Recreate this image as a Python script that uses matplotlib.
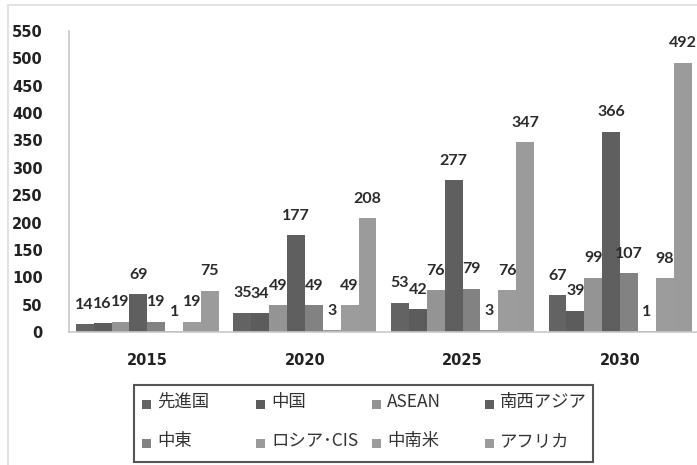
import matplotlib
matplotlib.use("Agg")
import numpy as np
import matplotlib.pyplot as plt
from matplotlib.lines import Line2D
from matplotlib.patches import Rectangle

plt.rcParams['font.family'] = ['Lato', 'Noto Sans CJK JP', 'DejaVu Sans']

years = ['2015', '2020', '2025', '2030']
regions = ['先進国', '中国', 'ASEAN', '南西アジア', '中東', 'ロシア･CIS', '中南米', 'アフリカ']

developed = [14, 35, 53, 67]
china = [16, 34, 42, 39]
asean = [19, 49, 76, 99]
south_west_asia = [69, 177, 277, 366]
middle_east = [19, 49, 79, 107]
russia_cis = [1, 3, 3, 1]
latin_america = [19, 49, 76, 98]
africa = [75, 208, 347, 492]

series = [developed, china, asean, south_west_asia, middle_east,
          russia_cis, latin_america, africa]
colors = ['#636363', '#5c5c5c', '#949494', '#5f5f5f', '#828282',
          '#9a9a9a', '#9c9c9c', '#9b9b9b']

W, H = 697, 465
fig = plt.figure(figsize=(W / 100, H / 100), dpi=100)
ax = fig.add_axes([69 / W, 1 - 332 / H, 628 / W, 301 / H])

x = np.arange(len(years))
w = 0.1135
for i, (vals, c) in enumerate(zip(series, colors)):
    pos = x + (i - 3.5) * w
    ax.bar(pos, vals, width=w, color=c, label=regions[i])
    for px, v in zip(pos, vals):
        ax.annotate(str(v), (px, v), xytext=(0, 9), textcoords='offset points',
                    ha='center', va='bottom', fontsize=11.5, fontweight='bold',
                    color='#2b2b2b')

ax.set_xlim(-0.497, 3.488)
ax.set_ylim(0, 550)
ax.set_yticks(range(0, 551, 50))
ax.set_xticks(x)
ax.set_xticklabels(years)
ax.tick_params(axis='both', length=0, colors='#222222')
ax.tick_params(axis='y', pad=19)
ax.tick_params(axis='x', pad=15)
for lab in ax.get_yticklabels():
    lab.set_fontfamily('DejaVu Sans')
    lab.set_fontweight('bold')
    lab.set_fontsize(10.5)
for lab in ax.get_xticklabels():
    lab.set_fontfamily('DejaVu Sans')
    lab.set_fontweight('bold')
    lab.set_fontsize(10.5)

for s in ['top', 'right']:
    ax.spines[s].set_visible(False)
for s in ['left', 'bottom']:
    ax.spines[s].set_color('#c8c8c8')
    ax.spines[s].set_linewidth(1.2)


def fx(px):
    return px / W


def fy(py):
    return 1 - py / H


# legend box, laid out row by row with fixed column positions
fig.add_artist(Rectangle((fx(134), fy(462)), fx(593) - fx(134), fy(385) - fy(462),
                         transform=fig.transFigure, fill=False,
                         edgecolor='#555555', lw=1.5))
col_x = [142, 256, 372, 485]
row_y = [402, 441]
for k, (name, c) in enumerate(zip(regions, colors)):
    cx = col_x[k % 4]
    cy = row_y[k // 4]
    fig.add_artist(Rectangle((fx(cx), fy(cy + 7)), 9 / W, 9 / H,
                             transform=fig.transFigure, color=c, lw=0))
    fig.text(fx(cx + 15), fy(cy), name, ha='left', va='center',
             fontsize=12.5, color='#333333',
             family=['Noto Sans CJK JP', 'DejaVu Sans'])

# thin outer frame on top and left
fig.add_artist(Line2D([fx(8), 1], [fy(5), fy(5)],
                      transform=fig.transFigure, color='#e3e3e3', lw=1.5))
fig.add_artist(Line2D([fx(8), fx(8)], [0, fy(5)],
                      transform=fig.transFigure, color='#e3e3e3', lw=1.5))

fig.savefig('out.png', dpi=100)
